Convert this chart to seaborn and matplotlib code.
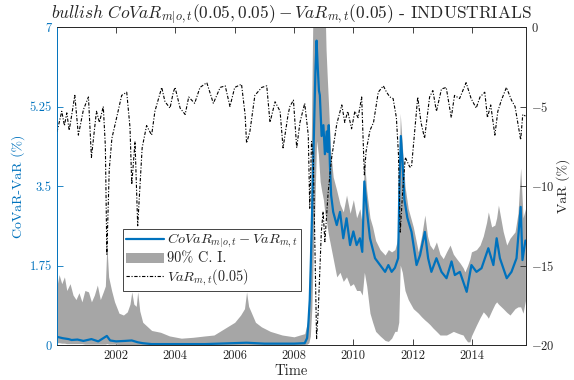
import numpy as np
import pandas as pd
import matplotlib
matplotlib.use("Agg")
import matplotlib.pyplot as plt
import seaborn as sns
from matplotlib.patches import Patch
from matplotlib.lines import Line2D

# --- data (decimal years) ---
covar_dates = [2000.01, 2000.2, 2000.4, 2000.5, 2000.7, 2000.9, 2001.17, 2001.4, 2001.69, 2001.8,
               2002.0, 2002.3, 2002.53, 2002.73, 2002.9, 2003.2, 2004.0, 2005.0, 2006.4, 2007.0,
               2008.0, 2008.36, 2008.44, 2008.48, 2008.53, 2008.57, 2008.65, 2008.72, 2008.76, 2008.8,
               2008.84, 2008.87, 2008.93, 2008.99, 2009.04, 2009.1, 2009.13, 2009.17, 2009.21, 2009.25,
               2009.32, 2009.44, 2009.55, 2009.66, 2009.77, 2009.89, 2010.0, 2010.11, 2010.22, 2010.3,
               2010.37, 2010.45, 2010.56, 2010.73, 2010.9, 2011.07, 2011.18, 2011.29, 2011.4, 2011.51,
               2011.55, 2011.6, 2011.66, 2011.72, 2011.82, 2011.96, 2012.13, 2012.25, 2012.41, 2012.52,
               2012.63, 2012.8, 2012.97, 2013.14, 2013.31, 2013.42, 2013.59, 2013.82, 2013.98, 2014.15,
               2014.32, 2014.55, 2014.72, 2014.83, 2014.94, 2015.17, 2015.33, 2015.5, 2015.64, 2015.7,
               2015.8]
covar_vals = [0.18, 0.15, 0.13, 0.11, 0.12, 0.09, 0.13, 0.08, 0.2, 0.1,
              0.08, 0.09, 0.1, 0.06, 0.04, 0.02, 0.02, 0.02, 0.05, 0.03,
              0.03, 0.04, 0.15, 0.44, 1.0, 1.9, 4.1, 6.0, 6.7, 6.1,
              5.6, 5.5, 4.6, 4.84, 4.2, 4.7, 4.25, 4.84, 3.96, 3.3,
              2.93, 2.64, 2.93, 2.35, 2.79, 2.2, 2.5, 2.2, 2.35, 2.05,
              3.6, 3.0, 2.35, 1.91, 1.76, 1.61, 1.76, 1.61, 1.7, 1.91,
              3.4, 4.6, 4.0, 3.2, 2.8, 2.49, 1.76, 1.98, 2.49, 1.91,
              1.61, 1.91, 1.61, 1.47, 1.84, 1.54, 1.61, 1.17, 1.76, 1.61,
              1.69, 2.13, 1.76, 2.35, 1.91, 1.47, 1.61, 1.91, 3.04, 1.87,
              2.3]

ci_dates = [2000.01, 2000.08, 2000.17, 2000.26, 2000.34, 2000.45, 2000.55, 2000.65, 2000.75, 2000.85,
            2000.95, 2001.07, 2001.17, 2001.27, 2001.37, 2001.47, 2001.57, 2001.64, 2001.69, 2001.75,
            2001.85, 2001.95, 2002.1, 2002.25, 2002.38, 2002.47, 2002.53, 2002.6, 2002.68, 2002.73,
            2002.8, 2002.9, 2003.0, 2003.2, 2003.5, 2003.8, 2004.2, 2004.6, 2005.0, 2005.3,
            2005.5, 2005.8, 2006.0, 2006.2, 2006.33, 2006.4, 2006.47, 2006.55, 2006.7, 2006.9,
            2007.2, 2007.6, 2008.0, 2008.2, 2008.36, 2008.45, 2008.5, 2008.55, 2008.6, 2008.65,
            2008.7, 2008.76, 2008.82, 2008.88, 2008.93, 2008.99, 2009.04, 2009.08, 2009.12, 2009.17,
            2009.23, 2009.32, 2009.44, 2009.55, 2009.66, 2009.77, 2009.89, 2010.0, 2010.11, 2010.22,
            2010.3, 2010.37, 2010.45, 2010.56, 2010.65, 2010.75, 2010.9, 2011.07, 2011.18, 2011.29,
            2011.4, 2011.47, 2011.53, 2011.58, 2011.65, 2011.74, 2011.85, 2012.02, 2012.19, 2012.3,
            2012.41, 2012.5, 2012.58, 2012.69, 2012.8, 2012.92, 2013.03, 2013.14, 2013.26, 2013.37,
            2013.48, 2013.6, 2013.7, 2013.76, 2013.85, 2013.93, 2013.98, 2014.15, 2014.27, 2014.38,
            2014.49, 2014.55, 2014.66, 2014.77, 2014.83, 2014.89, 2015.05, 2015.17, 2015.28, 2015.45,
            2015.55, 2015.64, 2015.72, 2015.8]
ci_lower = [0.05, 0.05, 0.04, 0.04, 0.03, 0.03, 0.03, 0.03, 0.03, 0.03,
            0.02, 0.02, 0.02, 0.02, 0.02, 0.02, 0.02, 0.02, 0.03, 0.02,
            0.02, 0.02, 0.01, 0.01, 0.01, 0.01, 0.01, 0.01, 0.01, 0.01,
            0.01, 0.01, 0.0, 0.0, 0.0, 0.0, 0.0, 0.0, 0.0, 0.0,
            0.0, 0.0, 0.0, 0.0, 0.0, 0.0, 0.0, 0.0, 0.0, 0.0,
            0.0, 0.0, 0.0, 0.0, 0.01, 0.02, 0.05, 0.2, 0.8, 2.0,
            3.0, 4.5, 4.2, 3.6, 3.4, 3.2, 2.9, 2.8, 2.6, 2.4,
            2.2, 1.9, 1.5, 1.6, 1.4, 1.5, 1.3, 1.35, 1.2, 1.2,
            1.1, 1.6, 1.3, 0.7, 0.5, 0.3, 0.2, 0.1, 0.08, 0.15,
            0.3, 0.3, 0.5, 1.76, 1.6, 1.2, 1.0, 0.8, 0.7, 0.62,
            0.55, 0.5, 0.45, 0.37, 0.3, 0.22, 0.22, 0.22, 0.26, 0.3,
            0.27, 0.24, 0.22, 0.15, 0.07, 0.07, 0.2, 0.44, 0.6, 0.73,
            0.65, 0.59, 0.75, 0.9, 0.95, 0.9, 0.8, 0.72, 0.66, 0.8,
            0.84, 0.84, 0.7, 0.98]
ci_upper = [1.3, 1.55, 1.35, 1.5, 1.2, 1.35, 1.1, 1.0, 1.15, 0.95,
            1.2, 1.17, 0.95, 1.1, 1.32, 1.0, 1.17, 1.3, 2.2, 1.5,
            1.2, 0.95, 0.7, 0.66, 0.73, 0.9, 1.17, 0.9, 0.85, 1.17,
            0.75, 0.5, 0.44, 0.32, 0.28, 0.2, 0.15, 0.17, 0.2, 0.22,
            0.3, 0.42, 0.5, 0.66, 0.8, 1.17, 0.85, 0.73, 0.5, 0.4,
            0.3, 0.22, 0.18, 0.22, 0.25, 0.5, 1.0, 2.5, 5.5, 8.0,
            8.0, 8.0, 8.0, 8.0, 8.0, 8.0, 7.6, 6.5, 5.9, 5.2,
            4.3, 3.7, 3.4, 3.1, 2.93, 3.3, 2.9, 3.2, 2.8, 3.0,
            2.65, 4.1, 3.4, 2.8, 2.6, 2.3, 2.1, 1.98, 2.1, 2.05,
            2.1, 2.27, 2.6, 5.1, 4.4, 3.5, 3.0, 2.6, 2.05, 2.4,
            2.86, 2.4, 2.2, 2.1, 2.27, 2.0, 1.9, 2.05, 2.2, 2.0,
            1.9, 1.8, 1.7, 1.61, 1.75, 1.9, 2.05, 2.1, 2.2, 2.4,
            2.7, 2.93, 2.6, 2.64, 2.8, 3.08, 2.5, 2.2, 2.35, 2.49,
            2.9, 3.9, 2.8, 3.0]

var_dates = [2000.01, 2000.17, 2000.26, 2000.34, 2000.42, 2000.5, 2000.61, 2000.73, 2000.9, 2001.07,
             2001.17, 2001.34, 2001.44, 2001.57, 2001.64, 2001.69, 2001.77, 2001.86, 2002.02, 2002.19,
             2002.36, 2002.47, 2002.53, 2002.64, 2002.73, 2002.88, 2003.03, 2003.2, 2003.31, 2003.54,
             2003.65, 2003.82, 2003.93, 2003.99, 2004.16, 2004.33, 2004.45, 2004.65, 2004.83, 2005.06,
             2005.28, 2005.51, 2005.68, 2005.84, 2006.0, 2006.23, 2006.35, 2006.4, 2006.51, 2006.68,
             2006.91, 2007.08, 2007.19, 2007.36, 2007.53, 2007.63, 2007.8, 2007.86, 2007.98, 2008.09,
             2008.2, 2008.36, 2008.48, 2008.53, 2008.59, 2008.65, 2008.71, 2008.76, 2008.82, 2008.92,
             2008.98, 2009.04, 2009.15, 2009.27, 2009.44, 2009.61, 2009.71, 2009.81, 2009.94, 2010.05,
             2010.16, 2010.28, 2010.37, 2010.43, 2010.56, 2010.68, 2010.84, 2011.01, 2011.12, 2011.23,
             2011.34, 2011.45, 2011.52, 2011.58, 2011.66, 2011.75, 2011.9, 2011.96, 2012.17, 2012.28,
             2012.4, 2012.57, 2012.68, 2012.8, 2012.97, 2013.13, 2013.3, 2013.41, 2013.58, 2013.8,
             2013.97, 2014.14, 2014.27, 2014.43, 2014.52, 2014.63, 2014.77, 2014.87, 2014.99, 2015.16,
             2015.33, 2015.45, 2015.64, 2015.71, 2015.8]
var_vals = [-6.6, -5.3, -6.2, -5.4, -6.5, -5.6, -4.3, -6.8, -5.2, -4.4,
            -8.2, -5.3, -6.0, -5.0, -7.5, -14.3, -9.0, -7.0, -5.7, -4.3,
            -4.1, -6.3, -9.9, -7.2, -12.5, -7.6, -6.2, -6.8, -5.3, -3.8,
            -4.7, -5.1, -4.1, -3.8, -5.1, -5.5, -4.4, -4.8, -3.8, -3.5,
            -4.8, -3.8, -3.7, -5.0, -3.8, -3.6, -5.5, -7.3, -6.6, -4.3,
            -3.8, -3.7, -6.0, -4.7, -5.3, -7.6, -5.5, -5.0, -4.6, -7.6,
            -6.0, -4.8, -6.8, -11.4, -7.2, -8.2, -14.5, -19.6, -17.7, -12.9,
            -11.6, -13.5, -10.4, -8.2, -6.1, -4.9, -6.0, -5.3, -6.4, -5.3,
            -5.7, -4.4, -9.3, -7.8, -6.5, -6.0, -4.1, -3.7, -4.1, -4.4,
            -4.5, -5.7, -8.0, -12.9, -10.4, -8.2, -8.8, -8.8, -4.4, -6.0,
            -7.0, -4.4, -4.0, -5.3, -3.9, -3.8, -5.7, -4.3, -4.5, -3.5,
            -4.5, -5.1, -4.4, -4.1, -5.7, -4.9, -6.8, -5.3, -4.6, -3.8,
            -4.6, -5.0, -7.1, -5.5, -5.6]

blue = "#0072BD"
gray = "#A6A6A6"

sns.set_theme(style="white")
plt.rcParams["font.family"] = ["cmr10", "DejaVu Serif"]
plt.rcParams["mathtext.fontset"] = "cm"
plt.rcParams["axes.formatter.use_mathtext"] = True
plt.rcParams["axes.unicode_minus"] = False

covar = pd.DataFrame({"time": covar_dates, "value": covar_vals})
var = pd.DataFrame({"time": var_dates, "value": var_vals})

fig = plt.figure(figsize=(5.74, 3.8), dpi=100)
ax1 = fig.add_axes([0.0988, 0.0921, 0.8176, 0.8368])
ax2 = ax1.twinx()

ax1.fill_between(ci_dates, ci_lower, ci_upper, color=gray, linewidth=0)
sns.lineplot(data=covar, x="time", y="value", ax=ax1, color=blue, linewidth=1.6, estimator=None)
sns.lineplot(data=var, x="time", y="value", ax=ax2, color="black", linewidth=0.8,
             linestyle=(0, (3, 1.5, 1, 1.5)), estimator=None)

ax1.set_xlim(2000.0, 2015.82)
ax1.set_ylim(0, 7)
ax2.set_ylim(-20, 0)
ax1.set_yticks([0, 1.75, 3.5, 5.25, 7])
ax1.set_yticklabels(["0", "1.75", "3.5", "5.25", "7"])
ax2.set_yticks([-20, -15, -10, -5, 0])
ax1.set_xticks([2002, 2004, 2006, 2008, 2010, 2012, 2014])
ax1.set_xticklabels(["2002", "2004", "2006", "2008", "2010", "2012", "2014"])

ax1.tick_params(axis="x", direction="in", top=True, bottom=True, length=4, width=0.6,
                labelsize=9, colors="#262626")
ax1.tick_params(axis="y", direction="in", length=4, width=0.6, labelsize=9, colors=blue)
ax2.tick_params(axis="y", direction="in", length=4, width=0.6, labelsize=9, colors="#262626")

for ax in (ax1, ax2):
    for s in ax.spines.values():
        s.set_linewidth(0.6)
        s.set_color("#262626")
ax2.spines["left"].set_color(blue)
ax1.spines["left"].set_color(blue)

ax1.set_xlabel("Time", fontsize=10.5, labelpad=2)
ax1.set_ylabel("CoVaR-VaR (%)", fontsize=10, color=blue, labelpad=3)
ax2.set_ylabel("VaR (%)", fontsize=10, color="#262626", labelpad=1)
ax1.set_title(r"$bullish\ CoVaR_{m|o,t}(0.05,0.05)-VaR_{m,t}(0.05)$ - INDUSTRIALS",
              fontsize=12.5, pad=4)

handles = [Line2D([], [], color=blue, linewidth=1.6),
           Patch(facecolor=gray, edgecolor="none"),
           Line2D([], [], color="black", linewidth=0.8, linestyle=(0, (3, 1.5, 1, 1.5)))]
labels = [r"$CoVaR_{m|o,t}-VaR_{m,t}$", "90% C. I.", r"$VaR_{m,t}(0.05)$"]
leg = ax2.legend(handles, labels, loc="lower left", bbox_to_anchor=(0.141, 0.17),
                 fontsize=10.3, frameon=True, fancybox=False, framealpha=1,
                 borderpad=0.2, labelspacing=0.12, handlelength=2.7, handletextpad=0.2,
                 borderaxespad=0)
leg.get_frame().set_edgecolor("#262626")
leg.get_frame().set_linewidth(0.6)

fig.savefig("out.png", dpi=100)
